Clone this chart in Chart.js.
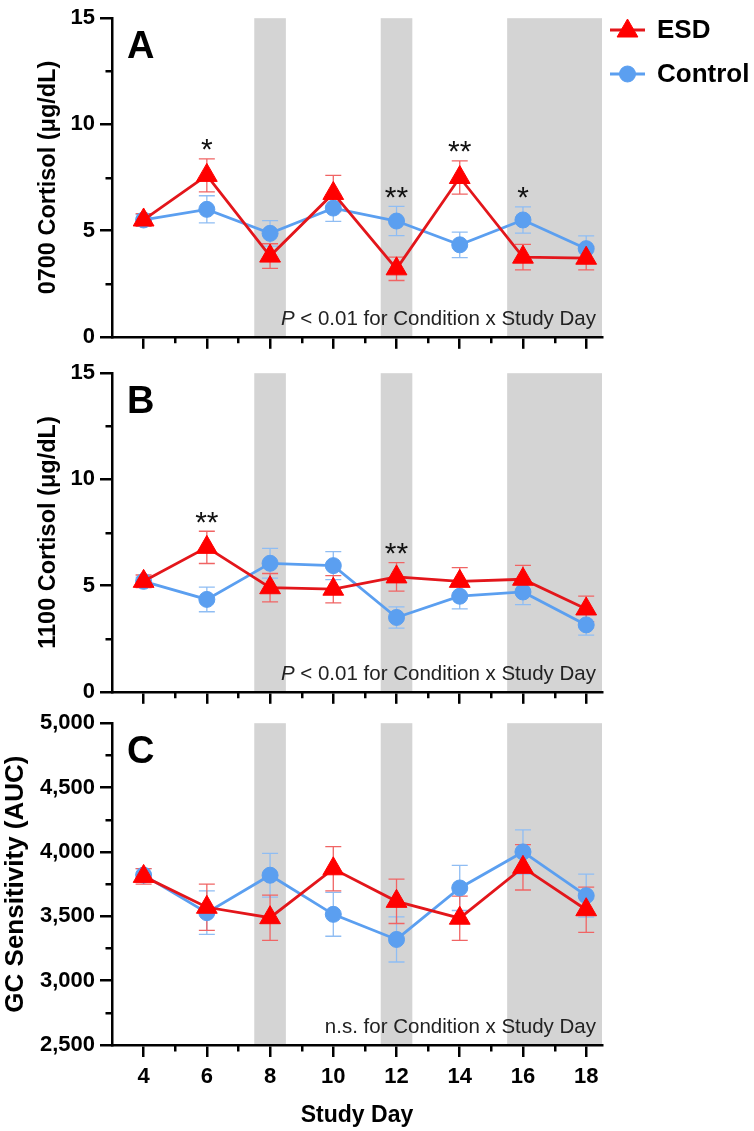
<!DOCTYPE html>
<html><head><meta charset="utf-8">
<script src="https://cdn.jsdelivr.net/npm/chart.js@4.4.1/dist/chart.umd.min.js"></script>
<style>
html,body{margin:0;padding:0;background:#fff;}
#wrap{position:relative;width:754px;height:1131px;overflow:hidden;background:#fff;}
canvas{position:absolute;left:0;}
</style></head><body>
<div id="wrap">
<canvas id="cA" width="754" height="355" style="top:0px"></canvas>
<canvas id="cB" width="754" height="355" style="top:355px"></canvas>
<canvas id="cC" width="754" height="426" style="top:705px"></canvas>
</div>
<script>
// ---------- data ----------
const days = [4, 6, 8, 10, 12, 14, 16, 18];
const xTicks = [4, 6, 8, 10, 12, 14, 16, 18];
const xMinorTicks = [5, 7, 9, 11, 13, 15, 17];
const shadeRanges = [[7.5, 8.5], [11.5, 12.5], [15.5, 18.5]];
const seriesNames = ['ESD', 'Control'];

const esdA = [5.5, 7.6, 3.8, 6.75, 3.2, 7.5, 3.75, 3.7];
const esdAErr = [0.3, 0.78, 0.58, 0.85, 0.55, 0.78, 0.6, 0.55];
const ctlA = [5.5, 6.0, 4.87, 6.06, 5.45, 4.33, 5.5, 4.15];
const ctlAErr = [0.25, 0.64, 0.6, 0.63, 0.69, 0.6, 0.62, 0.6];
const sigA = ['', '*', '', '', '**', '**', '*', ''];

const esdB = [5.2, 6.8, 4.9, 4.83, 5.41, 5.2, 5.3, 3.9];
const esdBErr = [0.3, 0.76, 0.67, 0.64, 0.67, 0.65, 0.65, 0.6];
const ctlB = [5.2, 4.35, 6.05, 5.94, 3.5, 4.5, 4.7, 3.15];
const ctlBErr = [0.2, 0.58, 0.7, 0.66, 0.5, 0.6, 0.6, 0.48];
const sigB = ['', '**', '', '', '**', '', '', ''];

const esdC = [3810, 3570, 3489, 3869, 3616, 3485, 3880, 3551];
const esdCErr = [60, 180, 176, 172, 172, 172, 176, 176];
const ctlC = [3820, 3528, 3819, 3515, 3320, 3720, 4000, 3660];
const ctlCErr = [50, 169, 170, 170, 175, 175, 172, 167];
const sigC = ['', '', '', '', '', '', '', ''];

const yTicksAB = [0, 5, 10, 15];
const yMinorAB = [2.5, 7.5, 12.5];
const yTicksC = [2500, 3000, 3500, 4000, 4500, 5000];
const yMinorC = [2750, 3250, 3750, 4250, 4750];

// ---------- style ----------
const FONT = "'Liberation Sans', Arial, Helvetica, sans-serif";
const ESD_LINE = '#e3161b', ESD_PT = '#ff0000', ESD_ERR = '#f06464';
const CTL_LINE = '#5b9ff0', CTL_PT = '#5b9ff0', CTL_ERR = '#8fbdf3';
const SHADE = '#d4d4d4';

function makeChart(id, p) {
  const ctx = document.getElementById(id);
  const plugin = {
    id: 'deco' + id,
    beforeDraw(chart) {
      const {ctx, chartArea: {top, bottom}, scales: {x}} = chart;
      ctx.save();
      ctx.fillStyle = SHADE;
      for (const [a, b] of shadeRanges) {
        const x1 = x.getPixelForValue(a), x2 = x.getPixelForValue(b);
        ctx.fillRect(x1, top, x2 - x1, bottom - top);
      }
      ctx.restore();
    },
    beforeDatasetsDraw(chart) {
      const {ctx, scales: {x, y}} = chart;
      ctx.save();
      const sets = [[p.ctl, p.ctlErr, CTL_ERR], [p.esd, p.esdErr, ESD_ERR]];
      for (const [vals, errs, col] of sets) {
        ctx.strokeStyle = col; ctx.lineWidth = 1.3;
        vals.forEach((v, i) => {
          const px = x.getPixelForValue(days[i]);
          const yt = y.getPixelForValue(v + errs[i]);
          const yb = y.getPixelForValue(v - errs[i]);
          ctx.beginPath();
          ctx.moveTo(px, yt); ctx.lineTo(px, yb);
          ctx.moveTo(px - 8, yt); ctx.lineTo(px + 8, yt);
          ctx.moveTo(px - 8, yb); ctx.lineTo(px + 8, yb);
          ctx.stroke();
        });
      }
      ctx.restore();
    },
    afterDraw(chart) {
      const {ctx, chartArea: {left, right, top, bottom}, scales: {x, y}} = chart;
      ctx.save();
      // minor ticks
      ctx.strokeStyle = '#000'; ctx.lineWidth = 2.5;
      ctx.beginPath();
      for (const v of xMinorTicks) {
        const px = Math.round(x.getPixelForValue(v)) + 0.25;
        ctx.moveTo(px, bottom); ctx.lineTo(px, bottom + 6.5);
      }
      for (const v of p.yMinor) {
        const py = Math.round(y.getPixelForValue(v)) + 0.25;
        ctx.moveTo(left, py); ctx.lineTo(left - 6.5, py);
      }
      ctx.stroke();
      // significance marks
      ctx.fillStyle = '#111';
      ctx.font = '30px ' + FONT;
      ctx.textAlign = 'center'; ctx.textBaseline = 'alphabetic';
      p.sig.forEach((s, i) => {
        if (!s) return;
        const topVal = Math.max(p.esd[i] + p.esdErr[i], p.ctl[i] + p.ctlErr[i]);
        const cy = y.getPixelForValue(topVal) - 17;
        ctx.fillText(s, x.getPixelForValue(days[i]), cy + 17.5);
      });
      // annotation
      const NF = '20.5px ' + FONT;
      ctx.textAlign = 'left'; ctx.textBaseline = 'alphabetic';
      ctx.fillStyle = '#222';
      ctx.font = NF;
      const rest = p.note;
      const w = ctx.measureText(rest).width;
      const italic = p.noteItalic || '';
      ctx.font = 'italic ' + NF;
      const wi = italic ? ctx.measureText(italic).width : 0;
      const xr = right - 6, by = bottom - 12;
      if (italic) { ctx.fillText(italic, xr - w - wi, by); }
      ctx.font = NF;
      ctx.fillText(rest, xr - w, by);
      // panel letter
      ctx.fillStyle = '#000';
      ctx.font = 'bold 38px ' + FONT;
      ctx.textAlign = 'left'; ctx.textBaseline = 'middle';
      ctx.fillText(p.letter, left + 15, top + 29);
      // legend
      if (p.legend) {
        const items = [[seriesNames[0], ESD_LINE, ESD_PT, 'triangle', 30], [seriesNames[1], CTL_LINE, CTL_PT, 'circle', 74]];
        for (const [name, lc, pc, st, ly] of items) {
          ctx.strokeStyle = lc; ctx.lineWidth = 3;
          ctx.beginPath(); ctx.moveTo(610, ly); ctx.lineTo(645, ly); ctx.stroke();
          ctx.fillStyle = pc; ctx.strokeStyle = pc; ctx.lineWidth = 1;
          Chart.helpers.drawPoint(ctx, {pointStyle: st, radius: st === 'triangle' ? 12 : 8, rotation: 0, borderWidth: 1}, 627.5, st === 'triangle' ? ly + 1 : ly);
          ctx.fillStyle = '#000';
          ctx.font = 'bold 26px ' + FONT;
          ctx.textAlign = 'left'; ctx.textBaseline = 'middle';
          ctx.fillText(name, 657, ly + 1);
        }
      }
      ctx.restore();
    }
  };

  return new Chart(ctx, {
    type: 'line',
    data: {
      datasets: [
        {
          label: seriesNames[0],
          data: days.map((d, i) => ({x: d, y: p.esd[i]})),
          borderColor: ESD_LINE, borderWidth: 2.8,
          pointStyle: 'triangle', pointRadius: 12, pointHoverRadius: 12,
          pointBackgroundColor: ESD_PT, pointBorderColor: ESD_PT, pointBorderWidth: 1,
          tension: 0, fill: false, clip: false
        },
        {
          label: seriesNames[1],
          data: days.map((d, i) => ({x: d, y: p.ctl[i]})),
          borderColor: CTL_LINE, borderWidth: 2.8,
          pointStyle: 'circle', pointRadius: 8, pointHoverRadius: 8,
          pointBackgroundColor: CTL_PT, pointBorderColor: CTL_PT, pointBorderWidth: 1,
          tension: 0, fill: false, clip: false
        }
      ]
    },
    options: {
      responsive: false, animation: false, devicePixelRatio: 1,
      events: [],
      layout: {padding: {left: 0, right: 152, top: p.padTop, bottom: 0}},
      plugins: {legend: {display: false}, tooltip: {enabled: false}},
      scales: {
        x: {
          type: 'linear', position: 'bottom', min: 3, max: 18.5,
          afterBuildTicks: s => { s.ticks = xTicks.map(v => ({value: v})); },
          afterFit: s => { s.height = p.xHeight; },
          grid: {display: true, drawOnChartArea: false, drawTicks: true, tickLength: 12, tickWidth: 2.5, tickColor: '#000', color: '#000', lineWidth: 2.5},
          border: {display: true, color: '#000', width: 2.5},
          ticks: {display: p.xLabels, autoSkip: false, maxRotation: 0, padding: 7, color: '#000', font: {family: FONT, size: 22, weight: 'bold'}},
          title: {display: p.xLabels, text: 'Study Day', color: '#000', font: {family: FONT, size: 23, weight: 'bold'}, padding: {top: 0, bottom: 2}}
        },
        y: {
          type: 'linear', position: 'left', min: p.yMin, max: p.yMax,
          afterBuildTicks: s => { s.ticks = p.yTicks.map(v => ({value: v})); },
          afterFit: s => { s.width = 112; },
          grid: {display: true, drawOnChartArea: false, drawTicks: true, tickLength: 12, tickWidth: 2.5, tickColor: '#000', color: '#000', lineWidth: 2.5},
          border: {display: true, color: '#000', width: 2.5},
          ticks: {autoSkip: false, padding: 5, color: '#000', font: {family: FONT, size: 22, weight: 'bold'},
                  callback: v => v.toLocaleString('en-US')},
          title: {display: true, text: p.yTitle, color: '#000', font: {family: FONT, size: p.yTitleSize, weight: 'bold'}, padding: {top: p.yTitlePad, bottom: 0}}
        }
      }
    },
    plugins: [plugin]
  });
}

makeChart('cA', {
  esd: esdA, esdErr: esdAErr, ctl: ctlA, ctlErr: ctlAErr, sig: sigA,
  yMin: 0, yMax: 15, yTicks: yTicksAB, yMinor: yMinorAB,
  yTitle: '0700 Cortisol (\u03bcg/dL)', yTitlePad: 34, yTitleSize: 23.5,
  padTop: 13, xHeight: 16, xLabels: false,
  letter: 'A', noteItalic: 'P', note: ' < 0.01 for Condition x Study Day', legend: true
});
makeChart('cB', {
  esd: esdB, esdErr: esdBErr, ctl: ctlB, ctlErr: ctlBErr, sig: sigB,
  yMin: 0, yMax: 15, yTicks: yTicksAB, yMinor: yMinorAB,
  yTitle: '1100 Cortisol (\u03bcg/dL)', yTitlePad: 34, yTitleSize: 23.5,
  padTop: 13, xHeight: 16, xLabels: false,
  letter: 'B', noteItalic: 'P', note: ' < 0.01 for Condition x Study Day', legend: false
});
makeChart('cC', {
  esd: esdC, esdErr: esdCErr, ctl: ctlC, ctlErr: ctlCErr, sig: sigC,
  yMin: 2500, yMax: 5000, yTicks: yTicksC, yMinor: yMinorC,
  yTitle: 'GC Sensitivity (AUC)', yTitlePad: 0, yTitleSize: 26,
  padTop: 14, xHeight: 86, xLabels: true,
  letter: 'C', noteItalic: '', note: 'n.s. for Condition x Study Day', legend: false
});
</script>
</body></html>
